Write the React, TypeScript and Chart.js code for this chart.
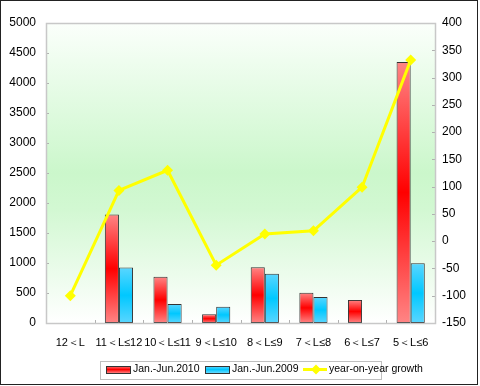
import React, { useEffect, useRef } from 'react';
import { Chart, registerables } from 'chart.js';

Chart.register(...registerables);

const categories = ['12＜L', '11＜L≤12', '10＜L≤11', '9＜L≤10', '8＜L≤9', '7＜L≤8', '6＜L≤7', '5＜L≤6'];
const sales2010 = [0, 1810, 770, 145, 930, 505, 385, 4350];
const sales2009 = [0, 925, 315, 270, 820, 435, 0, 995];
const growth = [-100, 93, 130, -44, 13, 19, 99, 332];
const seriesNames = ['Jan.-Jun.2010', 'Jan.-Jun.2009', 'year-on-year growth'];

const FONT = "'Liberation Sans', Arial, sans-serif";

function vGrad(ctx: CanvasRenderingContext2D, y0: number, y1: number, edge: string, mid: string) {
  const g = ctx.createLinearGradient(0, y0, 0, y1);
  g.addColorStop(0, edge);
  g.addColorStop(0.5, mid);
  g.addColorStop(1, edge);
  return g;
}

function barFill(edge: string, mid: string) {
  return (c: any) => {
    const chart = c.chart;
    const ys = chart.scales && chart.scales.y;
    if (!chart.chartArea || !ys || c.type !== 'data') return mid;
    const v = c.parsed ? c.parsed.y : 0;
    const top = ys.getPixelForValue(v);
    const base = ys.getPixelForValue(0);
    if (Math.abs(base - top) < 1) return mid;
    return vGrad(chart.ctx, top, base, edge, mid);
  };
}

const decorPlugin = {
  id: 'decor',
  beforeDatasetsDraw(chart: any) {
    const { ctx, chartArea: a } = chart;
    ctx.save();
    const g = ctx.createLinearGradient(0, a.top, 0, a.bottom);
    g.addColorStop(0, '#fbfffb');
    g.addColorStop(0.5, '#cbf7cb');
    g.addColorStop(0.62, '#d2f8d2');
    g.addColorStop(1, '#ffffff');
    ctx.fillStyle = g;
    ctx.fillRect(a.left, a.top, a.right - a.left, a.bottom - a.top);
    ctx.strokeStyle = '#b0b0b0';
    ctx.lineWidth = 1;
    ctx.beginPath();
    const y = chart.scales.y;
    y.ticks.forEach((t: any) => {
      const py = Math.round(y.getPixelForValue(t.value)) + 0.5;
      ctx.moveTo(a.left, py);
      ctx.lineTo(a.left + 3, py);
    });
    const y1 = chart.scales.y1;
    y1.ticks.forEach((t: any) => {
      const py = Math.round(y1.getPixelForValue(t.value)) + 0.5;
      ctx.moveTo(a.right - 3, py);
      ctx.lineTo(a.right, py);
    });
    const n = categories.length;
    const w = (a.right - a.left) / n;
    for (let i = 1; i < n; i++) {
      const px = Math.round(a.left + i * w) + 0.5;
      ctx.moveTo(px, a.bottom);
      ctx.lineTo(px, a.bottom - 3);
    }
    ctx.stroke();
    ctx.restore();
  },
  afterDraw(chart: any) {
    const { ctx, chartArea: a } = chart;
    ctx.save();
    ctx.strokeStyle = '#c8c8c8';
    ctx.lineWidth = 1.5;
    ctx.strokeRect(Math.round(a.left) + 0.5, Math.round(a.top) + 0.5, Math.round(a.right - a.left), Math.round(a.bottom - a.top));
    ctx.strokeStyle = '#222';
    ctx.lineWidth = 1;
    ctx.strokeRect(0.5, 0.5, 477, 384);
    const lx = 100, ly = 361, lw = 281, lh = 18;
    ctx.fillStyle = '#ffffff';
    ctx.fillRect(lx, ly, lw, lh);
    ctx.strokeStyle = '#c0c0c0';
    ctx.strokeRect(lx + 0.5, ly + 0.5, lw, lh);
    const cy = 369.5;
    const sw = (x: number, edge: string, mid: string) => {
      ctx.fillStyle = vGrad(ctx, cy - 3.5, cy + 3.5, edge, mid);
      ctx.fillRect(x, cy - 3.5, 24, 7);
      ctx.strokeStyle = '#333';
      ctx.lineWidth = 1;
      ctx.strokeRect(x + 0.5, cy - 3.5 + 0.5, 24, 7);
    };
    sw(106, '#ff8080', '#ff0000');
    sw(205, '#66d9ff', '#00c6ff');
    ctx.strokeStyle = '#ffff00';
    ctx.lineWidth = 3;
    ctx.beginPath();
    ctx.moveTo(303, cy);
    ctx.lineTo(327, cy);
    ctx.stroke();
    ctx.fillStyle = '#ffff00';
    ctx.beginPath();
    ctx.moveTo(316, cy - 5);
    ctx.lineTo(321, cy);
    ctx.lineTo(316, cy + 5);
    ctx.lineTo(311, cy);
    ctx.closePath();
    ctx.fill();
    ctx.fillStyle = '#000';
    ctx.font = `10.5px ${FONT}`;
    ctx.textBaseline = 'middle';
    ctx.textAlign = 'left';
    ctx.fillText(seriesNames[0], 133, cy);
    ctx.fillText(seriesNames[1], 232, cy);
    ctx.fillText(seriesNames[2], 329, cy);
    ctx.restore();
  },
};

export default function App() {
  const ref = useRef<HTMLCanvasElement>(null);
  useEffect(() => {
    if (!ref.current) return;
    const chart = new Chart(ref.current, {
      type: 'bar',
      data: {
        labels: categories,
        datasets: [
          {
            type: 'line',
            label: seriesNames[2],
            data: growth,
            yAxisID: 'y1',
            borderColor: '#ffff00',
            backgroundColor: '#ffff00',
            borderWidth: 3,
            pointStyle: 'rectRot',
            pointRadius: 5.5,
            pointBorderWidth: 0,
            tension: 0,
            order: 0,
          } as any,
          {
            type: 'bar',
            label: seriesNames[0],
            data: sales2010,
            yAxisID: 'y',
            backgroundColor: barFill('#ff8585', '#ff0000'),
            borderColor: '#333333',
            borderWidth: 1,
            borderSkipped: false,
            categoryPercentage: 0.58,
            barPercentage: 1,
            order: 1,
          },
          {
            type: 'bar',
            label: seriesNames[1],
            data: sales2009,
            yAxisID: 'y',
            backgroundColor: barFill('#5ad6ff', '#00c8ff'),
            borderColor: '#333333',
            borderWidth: 1,
            borderSkipped: false,
            categoryPercentage: 0.58,
            barPercentage: 1,
            order: 1,
          },
        ],
      },
      options: {
        responsive: false,
        animation: false,
        layout: { padding: { left: 0, right: 0, top: 23, bottom: 0 } },
        plugins: { legend: { display: false }, tooltip: { enabled: false } },
        scales: {
          x: {
            grid: { display: false, drawTicks: false },
            border: { display: false },
            ticks: {
              color: '#000',
              font: { family: FONT, size: 11 },
              maxRotation: 0,
              minRotation: 0,
              autoSkip: false,
              padding: 13,
            },
            afterFit: (s: any) => { s.height = 63; },
          },
          y: {
            position: 'left',
            min: 0,
            max: 5000,
            grid: { display: false, drawTicks: false },
            border: { display: false },
            ticks: {
              stepSize: 500,
              color: '#000',
              font: { family: FONT, size: 12 },
              padding: 10,
              callback: (v: any) => String(v),
            },
            afterFit: (s: any) => { s.width = 46; },
          },
          y1: {
            position: 'right',
            min: -150,
            max: 400,
            grid: { display: false, drawTicks: false },
            border: { display: false },
            ticks: {
              stepSize: 50,
              color: '#000',
              font: { family: FONT, size: 12 },
              padding: 7,
              callback: (v: any) => String(v),
            },
            afterFit: (s: any) => { s.width = 45; },
          },
        },
      },
      plugins: [decorPlugin],
    });
    return () => chart.destroy();
  }, []);
  return (
    <div style={{ position: 'absolute', left: 0, top: 0, width: 480, height: 386, background: '#fff' }}>
      <canvas ref={ref} width={480} height={386} style={{ display: 'block', width: 480, height: 386 }} />
    </div>
  );
}
